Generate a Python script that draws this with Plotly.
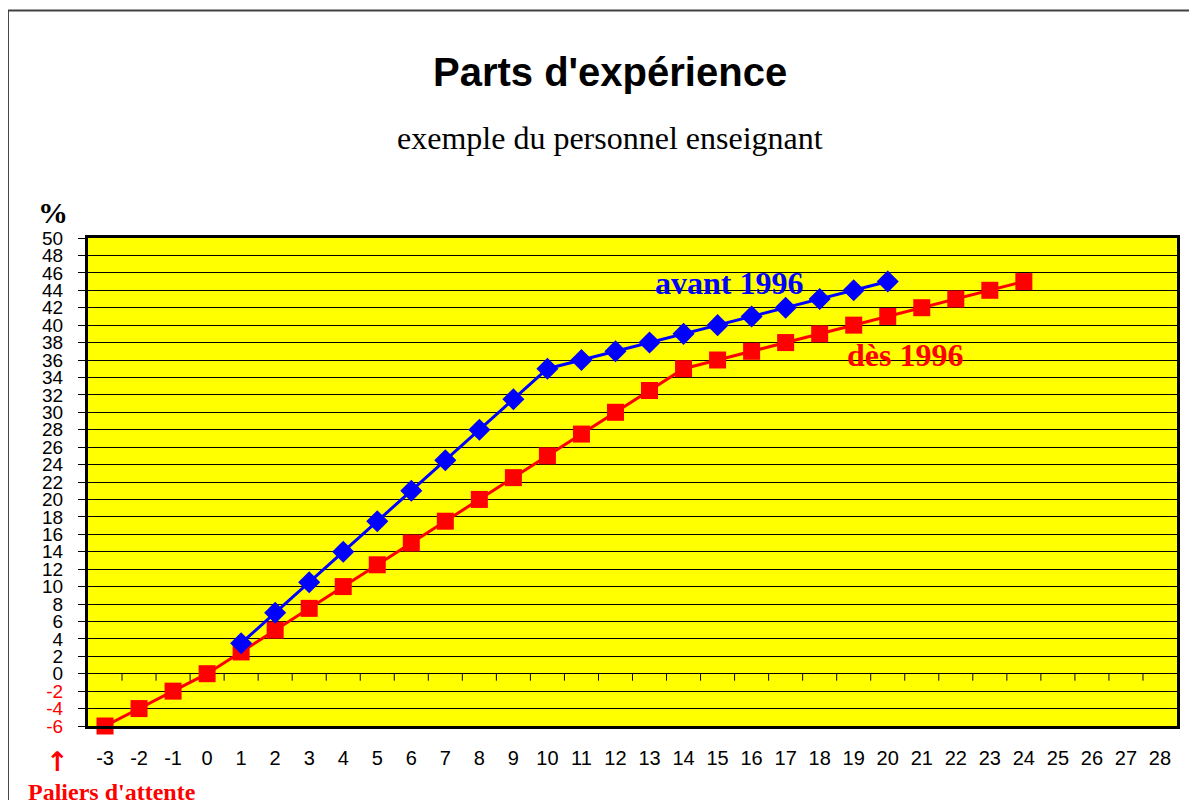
import plotly.graph_objects as go

# ---- data ----
categories = list(range(-3, 29))
avant_x = list(range(1, 21))
avant_vals = [3.5, 7, 10.5, 14, 17.5, 21, 24.5, 28, 31.5, 35,
              36, 37, 38, 39, 40, 41, 42, 43, 44, 45]
des_x = list(range(-3, 25))
des_vals = [-6, -4, -2, 0, 2.5, 5, 7.5, 10, 12.5, 15, 17.5, 20, 22.5, 25,
            27.5, 30, 32.5, 35, 36, 37, 38, 39, 40, 41, 42, 43, 44, 45]
y_ticks = list(range(-6, 51, 2))

SANS = "Liberation Sans, Arial, sans-serif"
SERIF = "Liberation Serif, Times New Roman, serif"

y_ticktext = [
    f"<span style='color:#ff0000'>{v}</span>" if v < 0 else str(v)
    for v in y_ticks
]

fig = go.Figure()

fig.add_trace(go.Scatter(
    x=des_x, y=des_vals, mode="lines+markers", name="dès 1996",
    line=dict(color="#ff0000", width=3),
    marker=dict(symbol="square", size=17, color="#ff0000"),
    cliponaxis=False,
))
fig.add_trace(go.Scatter(
    x=avant_x, y=avant_vals, mode="lines+markers", name="avant 1996",
    line=dict(color="#0000ff", width=3),
    marker=dict(symbol="diamond", size=17, color="#0000ff"),
    cliponaxis=False,
))

# small tick marks on the zero line
shapes = []
for c in categories[:-1]:
    shapes.append(dict(
        type="line", xref="x", yref="y", x0=c + 0.5, x1=c + 0.5,
        ysizemode="pixel", yanchor=0, y0=0, y1=-7,
        line=dict(color="#000000", width=1), layer="above",
    ))
# outer frame
shapes.append(dict(
    type="rect", xref="paper", yref="paper",
    x0=-0.0735, x1=1.3, y0=-0.5, y1=1.466,
    line=dict(color="#404040", width=2), layer="below",
))

annotations = [
    dict(text="<b>Parts d'expérience</b>", xref="paper", yref="paper",
         x=0.479, y=1.340, xanchor="center", yanchor="middle", showarrow=False,
         font=dict(family=SANS, size=40, color="#000000")),
    dict(text="exemple du personnel enseignant", xref="paper", yref="paper",
         x=0.479, y=1.205, xanchor="center", yanchor="middle", showarrow=False,
         font=dict(family=SERIF, size=32, color="#000000")),
    dict(text="<b>%</b>", xref="paper", yref="paper",
         x=-0.032, y=1.053, xanchor="center", yanchor="middle", showarrow=False,
         font=dict(family=SERIF, size=30, color="#000000")),
    dict(text="<b>avant 1996</b>", xref="x", yref="y",
         x=13.1, y=44.8, xanchor="left", yanchor="middle", showarrow=False,
         font=dict(family=SERIF, size=32, color="#0000ff")),
    dict(text="<b>dès 1996</b>", xref="x", yref="y",
         x=18.74, y=36.6, xanchor="left", yanchor="middle", showarrow=False,
         font=dict(family=SERIF, size=32, color="#ff0000")),
    dict(text="<b>↑</b>", xref="paper", yref="paper",
         x=-0.028, y=-0.072, xanchor="center", yanchor="middle", showarrow=False,
         font=dict(family="DejaVu Sans", size=27, color="#ff0000")),
    dict(text="<b>Paliers d'attente</b>", xref="paper", yref="paper",
         x=0.0216, y=-0.135, xanchor="center", yanchor="middle", showarrow=False,
         font=dict(family=SERIF, size=24, color="#ff0000")),
]

fig.update_layout(
    width=1189, height=792,
    margin=dict(l=80, r=20, t=230, b=74),
    paper_bgcolor="#ffffff", plot_bgcolor="#ffff00",
    showlegend=False,
    shapes=shapes, annotations=annotations,
    xaxis=dict(
        range=[-3.5, 28.5], tickmode="array", tickvals=categories,
        ticktext=[str(c) for c in categories],
        showgrid=False, zeroline=False, ticks="",
        showline=True, mirror=True, linecolor="#000000", linewidth=3,
        tickfont=dict(family=SANS, size=20, color="#000000"),
        ticklabelstandoff=12,
    ),
    yaxis=dict(
        range=[-6, 50], tickmode="array", tickvals=y_ticks,
        ticktext=y_ticktext,
        showgrid=True, gridcolor="#000000", gridwidth=1, zeroline=False,
        ticks="outside", ticklen=7, tickcolor="#000000",
        showline=True, mirror=True, linecolor="#000000", linewidth=3,
        tickfont=dict(family=SANS, size=19, color="#000000"),
        ticklabelstandoff=11,
    ),
)

fig.write_html("out.html")
